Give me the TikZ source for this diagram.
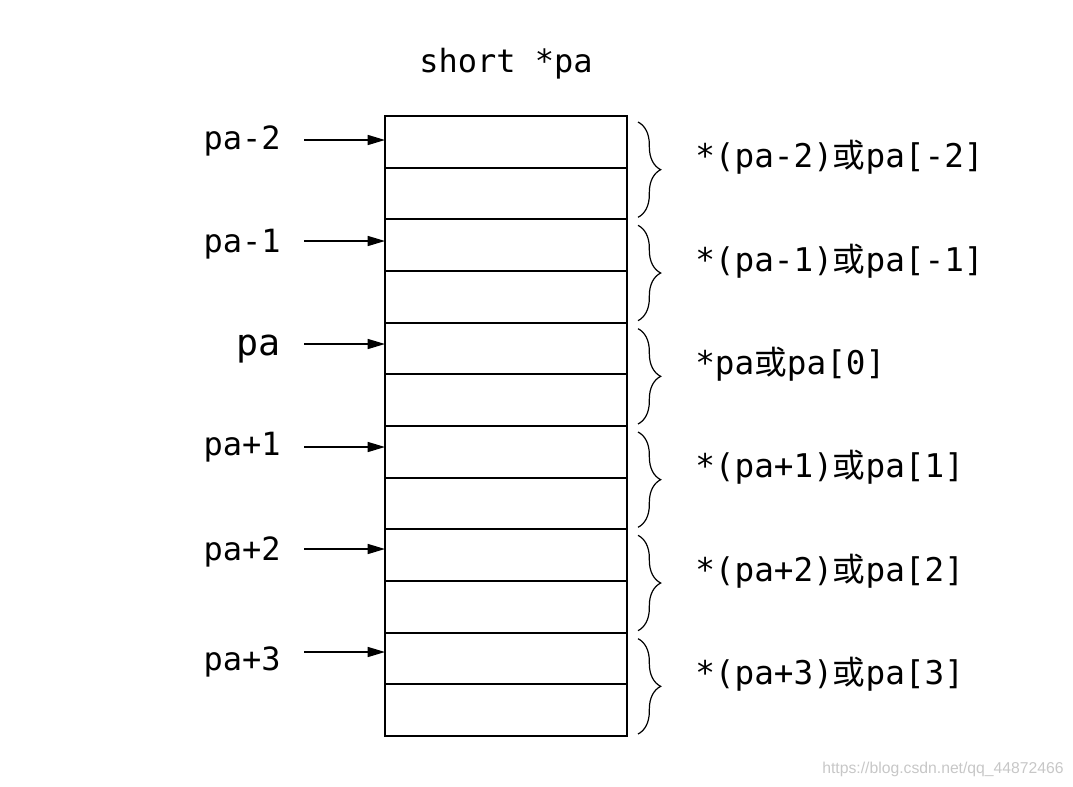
\documentclass[tikz,border=0pt]{standalone}
\usepackage{fontspec}
\setmonofont{DejaVu Sans Mono}
\newfontfamily\cjk{Noto Sans CJK SC}
\newfontfamily\wmfont{Liberation Sans}
\usetikzlibrary{arrows.meta,decorations.pathreplacing}
\tikzset{
  cell/.style={draw, line width=1.6pt, minimum width=181.5pt, minimum height=38.75pt, inner sep=0pt, outer sep=0pt},
  ptr/.style={-{Triangle[length=13pt,width=7.5pt]}, line width=1.1pt},
  lbl/.style={font=\ttfamily\fontsize{24}{24}\selectfont, anchor=base east, inner sep=0pt},
  biglbl/.style={font=\ttfamily\fontsize{27.5}{27.5}\selectfont, anchor=base east, inner sep=0pt},
  rlbl/.style={font=\ttfamily\fontsize{24.5}{24.5}\selectfont, anchor=base west, inner sep=0pt},
  br/.style={decorate, decoration={brace, amplitude=17pt}, line width=0.9pt},
  wm/.style={font=\wmfont\fontsize{11.8}{11.8}\selectfont, text=black!22, anchor=base east, inner sep=0pt}
}
\begin{document}
\begin{tikzpicture}[x=0.75pt,y=-0.75pt]
\useasboundingbox (0,0) rectangle (1073,786);

% title
\node[font=\ttfamily\fontsize{24}{24}\selectfont, anchor=base, inner sep=0pt] (title) at (506,72) {short *pa};

% cells
\foreach \i in {1,...,12}
  \node[cell] (c\i) at (506,{116+(\i-0.5)*51.667}) {};

% left labels
\node[lbl] (l1) at (281,149) {pa-2};
\node[lbl] (l2) at (281,252) {pa-1};
\node[biglbl] (l3) at (281,355) {pa};
\node[lbl] (l4) at (281,455) {pa+1};
\node[lbl] (l5) at (281,560) {pa+2};
\node[lbl] (l6) at (281,670) {pa+3};

% arrow starts
\coordinate (s1) at (304,140);
\coordinate (s2) at (304,241);
\coordinate (s3) at (304,344);
\coordinate (s4) at (304,447);
\coordinate (s5) at (304,549);
\coordinate (s6) at (304,652);
\draw[ptr] (s1) -- (s1 -| c1.west);
\draw[ptr] (s2) -- (s2 -| c3.west);
\draw[ptr] (s3) -- (s3 -| c5.west);
\draw[ptr] (s4) -- (s4 -| c7.west);
\draw[ptr] (s5) -- (s5 -| c9.west);
\draw[ptr] (s6) -- (s6 -| c11.west);

% braces
\foreach \k in {1,...,6} {
  \coordinate (bt\k) at (638,{116+(\k-1)*103.333+6});
  \coordinate (bb\k) at (638,{116+\k*103.333-2});
  \draw[br] (bt\k) -- (bb\k);
}

% right labels
\node[rlbl] (r1) at (695,{116+0.5*103.333}) {*(pa-2){\cjk 或}pa[-2]};
\node[rlbl] (r2) at (695,{116+1.5*103.333}) {*(pa-1){\cjk 或}pa[-1]};
\node[rlbl] (r3) at (695,{116+2.5*103.333}) {*pa{\cjk 或}pa[0]};
\node[rlbl] (r4) at (695,{116+3.5*103.333}) {*(pa+1){\cjk 或}pa[1]};
\node[rlbl] (r5) at (695,{116+4.5*103.333}) {*(pa+2){\cjk 或}pa[2]};
\node[rlbl] (r6) at (695,{116+5.5*103.333}) {*(pa+3){\cjk 或}pa[3]};

% watermark
\node[wm] (w) at (1064,773) {https://blog.csdn.net/qq\_44872466};
\end{tikzpicture}
\end{document}
